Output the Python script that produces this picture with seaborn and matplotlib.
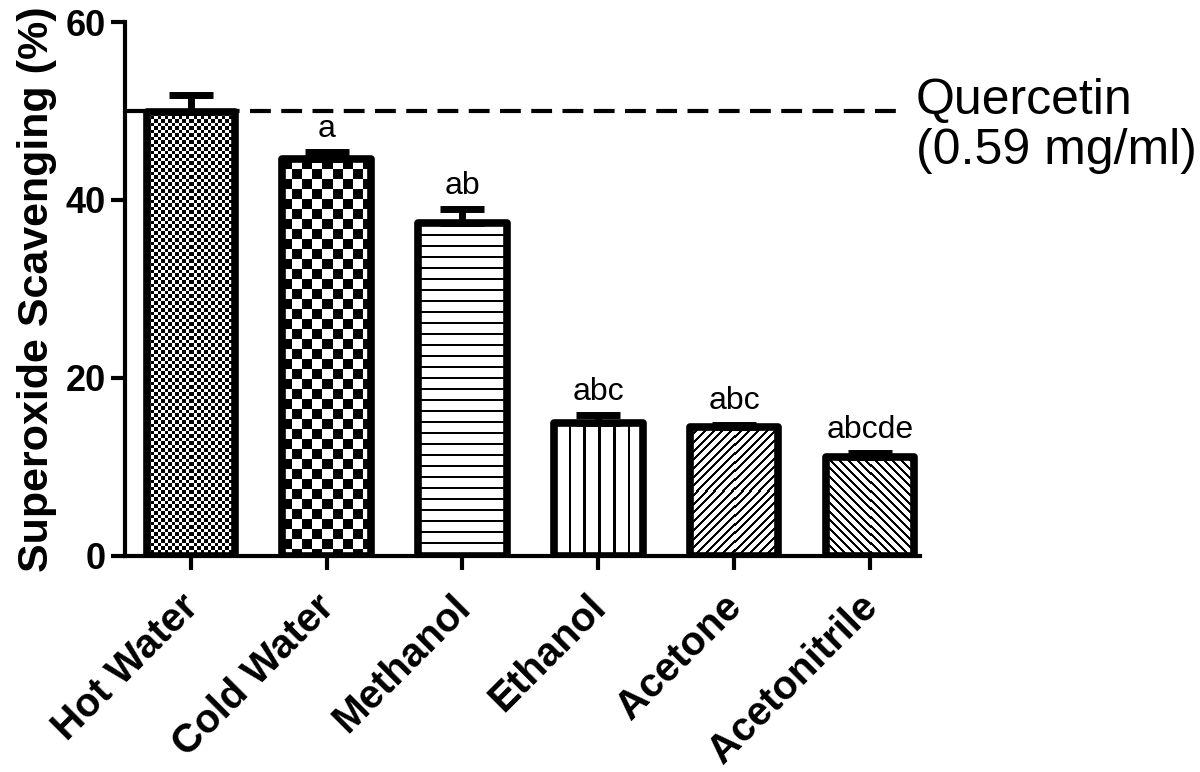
import numpy as np
import matplotlib
matplotlib.use('Agg')
import matplotlib.pyplot as plt
import matplotlib.transforms as mtransforms
import seaborn as sns

# values
solvents = ['Hot Water', 'Cold Water', 'Methanol', 'Ethanol', 'Acetone', 'Acetonitrile']
scavenging = [49.9, 44.6, 37.4, 14.9, 14.5, 11.1]
sem = [1.9, 0.8, 1.6, 0.9, 0.25, 0.45]
letters = ['', 'a', 'ab', 'abc', 'abc', 'abcde']
quercetin = 50.0
quercetin_label = 'Quercetin\n(0.59 mg/ml)'
y_ticks = [0, 20, 40, 60]

# fill style per bar (GraphPad-like patterns)
fills = ['fine_check', 'check', 'hlines', 'vlines', 'diag', 'backdiag']


def pattern_image(kind, w, h):
    iy, ix = np.indices((h, w))
    if kind == 'fine_check':
        black = (np.floor(ix / 3.5) + np.floor(iy / 3.5)) % 2 == 0
    elif kind == 'check':
        black = (np.floor(ix / 10) + np.floor(iy / 10)) % 2 == 0
    elif kind == 'hlines':
        black = (iy % 11) < 2
    elif kind == 'vlines':
        black = (ix % 14.5) < 2.2
    elif kind == 'diag':
        black = ((ix + iy) % 8.7) < 3
    else:
        black = ((ix - iy) % 8.7) < 3
    return np.where(black, 0.0, 1.0)


sns.set_style('ticks')
plt.rcParams['font.family'] = ['Liberation Sans', 'DejaVu Sans']
plt.rcParams.update({'text.color': 'black', 'axes.labelcolor': 'black',
                     'xtick.color': 'black', 'ytick.color': 'black',
                     'axes.edgecolor': 'black'})

fig = plt.figure(figsize=(12, 7.72), dpi=100)
ax = fig.add_axes([0.104, 0.280, 0.663, 0.6915])

sns.barplot(x=solvents, y=scavenging, color='white', saturation=1,
            edgecolor='black', linewidth=5.5, width=0.65, errorbar=None, ax=ax)

ax.set_xlim(-0.485, 5.37)
ax.set_ylim(0, 60)

# pattern fills drawn as images inside each bar
for patch, kind in zip(ax.patches, fills):
    x0, w, h = patch.get_x(), patch.get_width(), patch.get_height()
    p0, p1 = ax.transData.transform([(x0, 0), (x0 + w, h)])
    npx_w = int(round(abs(p1[0] - p0[0])))
    npx_h = int(round(abs(p1[1] - p0[1])))
    img = pattern_image(kind, npx_w, npx_h)
    ax.imshow(img, extent=(x0, x0 + w, 0, h), aspect='auto', interpolation='nearest',
              cmap='gray', vmin=0, vmax=1, zorder=1.5)
    patch.set_facecolor('none')
    patch.set_zorder(2)
    patch.set_joinstyle('round')

ax.set_xlim(-0.485, 5.37)
ax.set_ylim(0, 60)

# upper-only error bars
x_pos = np.arange(len(solvents))
ax.errorbar(x_pos, scavenging, yerr=[np.zeros(len(sem)), sem], fmt='none',
            ecolor='black', elinewidth=5, capsize=16, capthick=5, zorder=3)

# significance letters
for i, (v, e, lab) in enumerate(zip(scavenging, sem, letters)):
    if lab:
        ax.annotate(lab, (i, v + e), xytext=(0, 11), textcoords='offset points',
                    ha='center', va='baseline', fontsize=23)

# quercetin reference line
ax.axhline(quercetin, xmin=0, xmax=0.975, color='black', lw=3, dashes=(5, 2.5), zorder=2.5)
ax.text(0.994, 48.3, quercetin_label, transform=ax.get_yaxis_transform(),
        ha='left', va='center', fontsize=36, linespacing=1.1)

ax.set_yticks(y_ticks)
ax.set_xticks(x_pos)
ax.set_xticklabels(solvents, rotation=45, ha='right', rotation_mode='anchor',
                   fontsize=29, fontweight='bold')
ax.tick_params(axis='both', width=3, length=10, direction='out', color='black')
ax.tick_params(axis='x', pad=13)
ax.tick_params(axis='y', labelsize=26)
plt.setp(ax.get_yticklabels(), fontweight='bold')

# nudge rotated labels a little left, as in the original
shift = mtransforms.ScaledTranslation(-12 / 100, 0, fig.dpi_scale_trans)
for lbl in ax.get_xticklabels():
    lbl.set_transform(lbl.get_transform() + shift)

ax.set_ylabel('Superoxide Scavenging (%)', fontsize=31, fontweight='bold', labelpad=6)
ax.set_xlabel('')

sns.despine(ax=ax)
for side in ['left', 'bottom']:
    ax.spines[side].set_linewidth(3)
    ax.spines[side].set_color('black')

fig.savefig('out.png', dpi=100, facecolor='white')
